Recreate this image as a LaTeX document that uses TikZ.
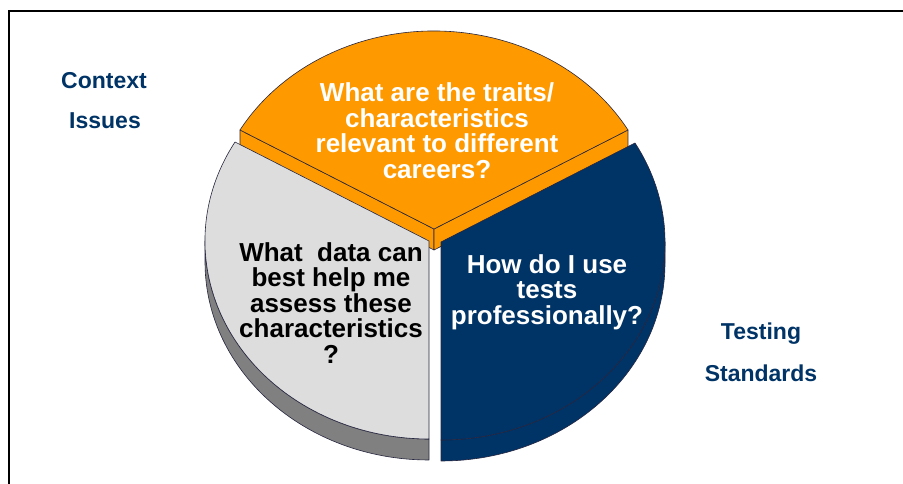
\documentclass[tikz,border=0pt]{standalone}
\usepackage{fontspec}
\setmainfont{Liberation Sans}
\usepackage{xcolor}
\usetikzlibrary{calc}
\definecolor{pieorange}{RGB}{255,153,0}
\definecolor{pienavy}{RGB}{0,51,102}
\definecolor{piegray}{RGB}{221,221,221}
\definecolor{piegrayside}{RGB}{128,128,128}
\definecolor{pieedge}{RGB}{38,38,64}
\tikzstyle{slice} = [draw=pieedge, line width=0.6pt, line join=round]
\tikzstyle{pietext} = [inner sep=0pt, align=center,
  font=\bfseries\fontsize{26}{25.5}\selectfont]
\tikzstyle{sidelabel} = [inner sep=0pt, anchor=base, text=pienavy,
  font=\bfseries\fontsize{23}{25}\selectfont]

\begin{document}
\begin{tikzpicture}[x=1pt, y=1pt]
  \useasboundingbox (0,0) rectangle (903,484);
  \draw[line width=1.5pt] (9,0) -- (9,473) -- (903,473);

  \coordinate (top) at (434,255);
  \coordinate (left) at (429,243);
  \coordinate (right) at (441,242);
  \coordinate (topL) at ($(top)+(150:224 and 198)$);
  \coordinate (topR) at ($(top)+(30:224 and 198)$);

  % orange slice, pulled up
  \filldraw[slice, fill=pieorange] (topL) -- (top) -- ++(0,-21) -- ($(topL)+(0,-21)$) -- cycle;
  \filldraw[slice, fill=pieorange] (topR) -- (top) -- ++(0,-21) -- ($(topR)+(0,-21)$) -- cycle;
  \filldraw[slice, fill=pieorange] (top) -- (topR)
    arc[start angle=30, end angle=150, x radius=224, y radius=198] -- cycle;

  % grey slice
  \filldraw[slice, fill=piegrayside] ($(left)+(180:224 and 198)$)
    arc[start angle=180, end angle=270, x radius=224, y radius=198] -- ++(0,-21)
    arc[start angle=270, end angle=180, x radius=224, y radius=198] -- cycle;
  \filldraw[slice, fill=piegray] (left) -- ++(150:224 and 198)
    arc[start angle=150, end angle=270, x radius=224, y radius=198] -- cycle;

  % navy slice
  \filldraw[slice, fill=pienavy] ($(right)+(270:224 and 198)$)
    arc[start angle=270, end angle=360, x radius=224, y radius=198] -- ++(0,-21)
    arc[start angle=360, end angle=270, x radius=224, y radius=198] -- cycle;
  \filldraw[slice, fill=pienavy] (right) -- ++(270:224 and 198)
    arc[start angle=270, end angle=390, x radius=224, y radius=198] -- cycle;

  \node[pietext, text=white] (traits) at (437,353.5)
    {What are the traits/\\characteristics\\relevant to different\\careers?};
  \node[pietext, text=black] (data) at (331,181)
    {What\ \ data can\\best help me\\assess these\\characteristics\\?};
  \node[pietext, text=white] (tests) at (547,192)
    {How do I use\\tests\\professionally?};

  \node[sidelabel] (context) at (104,395) {Context};
  \node[sidelabel] (issues) at (105,355) {Issues};
  \node[sidelabel] (testing) at (761,144) {Testing};
  \node[sidelabel] (standards) at (761,102) {Standards};
\end{tikzpicture}
\end{document}
